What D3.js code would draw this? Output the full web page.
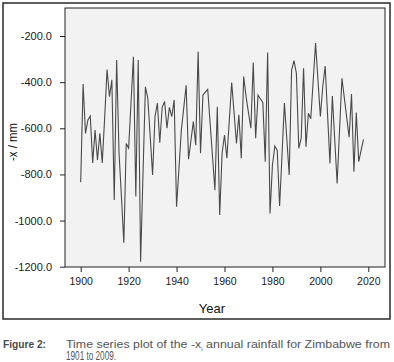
<!DOCTYPE html>
<html>
<head>
<meta charset="utf-8">
<script src="https://cdn.jsdelivr.net/npm/d3@7"></script>
<style>
body { margin: 0; background: #fff; }
svg { display: block; }
text { font-family: 'Liberation Sans Narrow', 'Liberation Sans', Arial, sans-serif; }
</style>
</head>
<body>
<script>
// annual rainfall, sign flipped (-x)
var firstYear = 1900;
var rainfall = [
    -834, -408, -622, -564, -547, -750, -608, -737, -622, -750,
    -554, -345, -463, -390, -911, -304, -708, -898, -1096, -666,
    -686, -488, -290, -896, -304, -1179, -797, -420, -470, -635,
    -802, -549, -491, -663, -509, -484, -600, -509, -549, -477,
    -940, -774, -608, -511, -414, -734, -653, -571, -673, -268,
    -708, -456, -443, -431, -577, -722, -868, -507, -976, -708,
    -629, -730, -566, -402, -534, -666, -542, -730, -376, -463,
    -532, -600, -315, -643, -456, -473, -488, -745, -272, -969,
    -760, -677, -696, -937, -716, -491, -645, -802, -348, -307,
    -362, -687, -643, -340, -680, -535, -559, -395, -231, -392,
    -549, -420, -330, -539, -752, -460, -650, -839, -610, -383,
    -468, -554, -639, -451, -788, -532, -745, -696, -648
];
var yTicks = [-200, -400, -600, -800, -1000, -1200];
var xTicks = [1900, 1920, 1940, 1960, 1980, 2000, 2020];
var xTitle = "Year";
var yTitle = "-x / mm";
var captionHead = "Figure 2:";

var W = 394, H = 362;
var margin = {top: 8, right: 9, bottom: 95, left: 65},
    width = W - margin.left - margin.right,
    height = H - margin.top - margin.bottom;

var svg = d3.select("body").append("svg")
    .attr("width", W)
    .attr("height", H);

// outer frame round the figure
svg.append("rect")
    .attr("x", 3).attr("y", 3)
    .attr("width", 387).attr("height", 316)
    .attr("fill", "none")
    .attr("stroke", "#2a2a2a")
    .attr("stroke-width", 1.5);

var g = svg.append("g")
    .attr("transform", "translate(" + margin.left + "," + margin.top + ")");

var x = d3.scaleLinear()
    .domain([1893.45, 2026.97])
    .range([0, width]);

var y = d3.scaleLinear()
    .domain([-1201.3, -78.6])
    .range([height, 0]);

// plot background
g.append("rect")
    .attr("width", width)
    .attr("height", height)
    .attr("fill", "#f2f2f2")
    .attr("stroke", "#222")
    .attr("stroke-width", 1);

// y-axis
var yAxis = g.append("g")
    .call(d3.axisLeft(y)
        .tickValues(yTicks)
        .tickSize(5)
        .tickPadding(8)
        .tickFormat(function (d) { return d.toFixed(1); }));
yAxis.select(".domain").remove();
yAxis.selectAll("line").attr("stroke", "#222");
yAxis.selectAll("text")
    .style("font-size", "11px")
    .attr("fill", "#1a1a1a");

// x-axis
var xAxis = g.append("g")
    .attr("transform", "translate(0," + height + ")")
    .call(d3.axisBottom(x)
        .tickValues(xTicks)
        .tickSize(5)
        .tickPadding(6)
        .tickFormat(d3.format("d")));
xAxis.select(".domain").remove();
xAxis.selectAll("line").attr("stroke", "#222");
xAxis.selectAll("text")
    .style("font-size", "10.5px")
    .attr("fill", "#1a1a1a");

// the series
var valueline = d3.line()
    .x(function (d, i) { return x(firstYear + i); })
    .y(function (d) { return y(d); });

g.append("path")
    .datum(rainfall)
    .attr("fill", "none")
    .attr("stroke", "#4a4a4a")
    .attr("stroke-width", 1.1)
    .attr("d", valueline);

// axis titles
svg.append("text")
    .attr("x", 212)
    .attr("y", 313)
    .attr("text-anchor", "middle")
    .style("font-size", "13px")
    .attr("fill", "#111")
    .text(xTitle);

svg.append("text")
    .attr("transform", "translate(17,142) rotate(-90)")
    .attr("text-anchor", "middle")
    .attr("textLength", 38)
    .attr("lengthAdjust", "spacingAndGlyphs")
    .style("font-size", "13.5px")
    .attr("fill", "#111")
    .text(yTitle);

// caption
svg.append("text")
    .attr("x", 3)
    .attr("y", 348)
    .attr("textLength", 43)
    .attr("lengthAdjust", "spacingAndGlyphs")
    .style("font-size", "11.5px")
    .style("font-weight", "bold")
    .attr("fill", "#4a4a4a")
    .text(captionHead);

var cap1 = svg.append("text")
    .attr("x", 66)
    .attr("y", 348)
    .attr("textLength", 324)
    .attr("lengthAdjust", "spacingAndGlyphs")
    .style("font-size", "11.5px")
    .attr("fill", "#555");
cap1.append("tspan").text("Time series plot of the -x");
cap1.append("tspan").attr("dy", 2.5).style("font-size", "6px").text("i");
cap1.append("tspan").attr("dy", -2.5).text(" annual rainfall for Zimbabwe from");

svg.append("text")
    .attr("x", 66)
    .attr("y", 360)
    .attr("textLength", 50)
    .attr("lengthAdjust", "spacingAndGlyphs")
    .style("font-size", "12px")
    .attr("fill", "#555")
    .text("1901 to 2009.");
</script>
</body>
</html>
